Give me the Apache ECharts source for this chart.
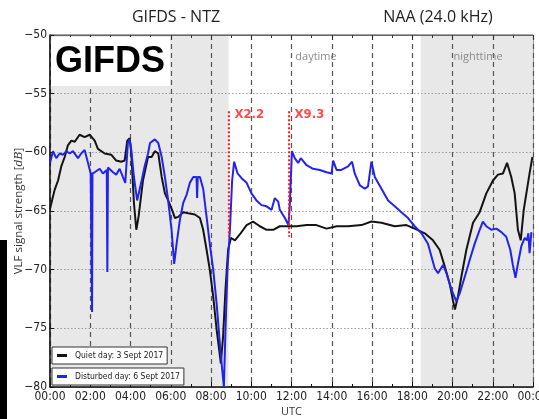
<!DOCTYPE html>
<html>
<head>
<meta charset="utf-8">
<title>GIFDS - NTZ / NAA (24.0 kHz)</title>
<script src="https://cdn.jsdelivr.net/npm/echarts@6/dist/echarts.min.js"></script>
<style>
  html, body { margin: 0; padding: 0; background: #fff; }
  #chart { width: 539px; height: 419px; }
</style>
</head>
<body>
<div id="chart"></div>
<script>
// Hour ticks along the UTC axis
const hourTicks = [0, 2, 4, 6, 8, 10, 12, 14, 16, 18, 20, 22, 24];

// Quiet day (3 Sept 2017): time in UTC hours, amplitude in dB
const quietHours = [0.00, 0.23, 0.40, 0.56, 0.73, 0.89, 1.06, 1.23, 1.47, 1.72, 1.97, 2.22, 2.38, 2.72, 3.04, 3.29, 3.54, 3.71, 3.84, 3.96, 4.04, 4.17, 4.29, 4.40, 4.62, 4.87, 5.05, 5.21, 5.38, 5.55, 5.71, 5.87, 6.04, 6.21, 6.37, 6.62, 6.87, 7.20, 7.45, 7.61, 7.78, 7.94, 8.11, 8.28, 8.39, 8.49, 8.60, 8.72, 8.85, 8.99, 9.19, 9.43, 9.77, 10.09, 10.43, 10.76, 11.09, 11.42, 11.83, 12.25, 12.75, 13.24, 13.74, 14.24, 14.81, 15.48, 15.97, 16.47, 17.13, 17.71, 18.12, 18.62, 19.03, 19.36, 19.61, 19.86, 20.02, 20.12, 20.27, 20.44, 20.69, 21.02, 21.35, 21.68, 22.01, 22.26, 22.51, 22.71, 22.92, 23.09, 23.25, 23.39, 23.54, 23.67, 23.83, 23.97];
const quietDb = [-64.8, -63.2, -62.4, -61.2, -60.4, -59.4, -59.0, -59.1, -58.5, -58.7, -58.5, -59.0, -59.7, -60.1, -60.2, -60.7, -60.8, -60.7, -59.0, -58.8, -60.1, -64.3, -66.6, -65.5, -62.4, -60.4, -60.4, -59.9, -60.1, -62.1, -63.5, -64.1, -64.8, -65.6, -65.5, -65.1, -65.2, -65.3, -65.6, -66.6, -68.3, -70.0, -72.3, -75.1, -76.6, -78.0, -75.7, -71.7, -68.3, -67.3, -67.5, -67.0, -66.2, -65.9, -66.3, -66.6, -66.6, -66.3, -66.3, -66.3, -66.2, -66.2, -66.5, -66.3, -66.3, -66.2, -65.9, -66.0, -66.3, -66.2, -66.5, -66.9, -67.5, -68.3, -69.7, -71.2, -72.6, -73.4, -72.3, -70.6, -68.3, -66.0, -65.1, -63.5, -62.4, -61.9, -61.8, -60.9, -62.1, -63.5, -66.6, -67.5, -64.9, -63.5, -61.8, -60.4];

// Disturbed day (6 Sept 2017): time in UTC hours, amplitude in dB
const disturbedHours = [0.00, 0.15, 0.31, 0.48, 0.65, 0.81, 0.98, 1.14, 1.39, 1.55, 1.72, 1.89, 2.02, 2.07, 2.09, 2.11, 2.22, 2.47, 2.63, 2.82, 2.85, 2.88, 2.96, 3.13, 3.29, 3.46, 3.62, 3.74, 3.87, 3.96, 4.04, 4.17, 4.33, 4.53, 4.70, 4.87, 4.97, 5.21, 5.38, 5.55, 5.71, 5.87, 6.04, 6.17, 6.29, 6.45, 6.62, 6.79, 6.95, 7.12, 7.28, 7.31, 7.34, 7.45, 7.61, 7.78, 7.94, 8.11, 8.28, 8.44, 8.56, 8.64, 8.72, 8.82, 8.94, 9.05, 9.15, 9.32, 9.52, 9.77, 10.01, 10.26, 10.51, 10.76, 11.01, 11.17, 11.34, 11.42, 11.67, 11.85, 11.92, 12.02, 12.16, 12.33, 12.46, 12.75, 13.07, 13.41, 13.74, 13.99, 14.07, 14.24, 14.48, 14.81, 15.01, 15.14, 15.39, 15.64, 15.80, 15.97, 16.14, 16.47, 16.80, 17.13, 17.46, 17.79, 18.12, 18.46, 18.78, 19.12, 19.28, 19.53, 19.70, 19.95, 20.19, 20.36, 20.61, 20.85, 21.10, 21.35, 21.51, 21.68, 21.93, 22.18, 22.43, 22.67, 22.87, 23.00, 23.13, 23.25, 23.42, 23.59, 23.70, 23.77, 23.83, 23.92];
const disturbedDb = [-60.9, -59.9, -60.5, -60.1, -60.2, -59.9, -60.1, -59.9, -60.5, -60.1, -59.8, -60.9, -61.8, -61.8, -73.6, -61.8, -61.7, -61.4, -61.8, -61.5, -70.2, -61.3, -61.2, -61.7, -61.9, -61.4, -62.1, -62.6, -59.2, -58.9, -59.8, -62.1, -64.1, -62.6, -61.2, -60.1, -59.2, -58.9, -59.2, -60.4, -62.1, -64.1, -66.6, -69.5, -67.8, -65.8, -64.3, -63.6, -62.6, -62.1, -62.1, -63.9, -62.1, -62.1, -63.1, -65.5, -67.8, -70.0, -72.9, -76.3, -78.6, -80.0, -75.1, -70.0, -66.6, -62.4, -60.8, -61.8, -62.2, -62.6, -63.5, -64.1, -64.5, -64.6, -64.9, -63.9, -64.2, -64.9, -65.6, -66.2, -64.3, -59.9, -60.5, -60.9, -60.5, -61.1, -61.4, -61.5, -61.7, -61.8, -60.7, -61.5, -61.5, -61.2, -60.8, -61.8, -62.8, -63.1, -62.9, -60.8, -62.1, -63.1, -64.1, -64.6, -65.1, -65.6, -66.3, -66.9, -67.8, -69.9, -70.3, -69.6, -70.3, -71.7, -72.7, -72.0, -70.6, -69.2, -67.8, -66.6, -65.9, -66.3, -66.6, -66.5, -66.8, -67.2, -68.3, -69.6, -70.7, -69.5, -68.0, -67.3, -67.5, -66.9, -68.6, -66.8];

// Night-time bands (UTC hours)
const nightBands = [[0, 8.87], [18.42, 24]];

// Solar flare markers: onset time, vertical extent in dB, amplification label
const flareHours = [8.89, 11.88];
const flareTopDb = [-56.5, -56.5];
const flareBottomDb = [-67.2, -67.2];
const flareLabels = ['X2.2', 'X9.3'];

const seriesNames = ['Quiet day: 3 Sept 2017', 'Disturbed day: 6 Sept 2017'];

const toPairs = (xs, ys) => xs.map((x, i) => [x, ys[i]]);
const hourLabel = v => String(Math.round(v) % 24).padStart(2, '0') + ':00';
const dbLabel = v => (v < 0 ? '\u2212' + Math.abs(v) : String(v));

const tickFont = '"Liberation Sans Narrow", "DejaVu Sans Condensed", "Liberation Sans", sans-serif';
const titleFont = '"Open Sans", "Noto Sans", sans-serif';
const flareRed = '#ff1a1a';

// dotted vertical flare lines
const flareLines = flareHours.map((h, i) => ({
  type: 'line',
  z: 4,
  silent: true,
  symbol: 'none',
  lineStyle: { color: flareRed, width: 2, type: [2, 2] },
  data: [[h, flareTopDb[i]], [h, flareBottomDb[i]]]
}));

// flare amplification labels at the top of each line
const flareTags = {
  type: 'scatter',
  z: 5,
  silent: true,
  symbolSize: 1,
  itemStyle: { color: 'rgba(0,0,0,0)' },
  label: {
    show: true,
    position: 'right',
    distance: 5,
    offset: [0, 3],
    formatter: p => flareLabels[p.dataIndex],
    color: flareRed,
    fontWeight: 'bold',
    fontSize: 13,
    fontFamily: tickFont
  },
  data: flareHours.map((h, i) => [h, flareTopDb[i]])
};

const legendBox = (name, top) => ({
  data: [name],
  left: 52, top: top,
  orient: 'vertical',
  borderColor: '#333', borderWidth: 1, borderRadius: 0,
  padding: [4, 4, 4, 5],
  itemWidth: 10, itemHeight: 3,
  icon: 'rect',
  backgroundColor: '#fff',
  textStyle: { fontFamily: tickFont, fontSize: 8.5, color: '#222', padding: [0, 0, 0, 3] }
});

const chart = echarts.init(document.getElementById('chart'), null, { renderer: 'canvas' });

chart.setOption({
  animation: false,
  backgroundColor: '#fff',
  title: [
    {
      text: 'GIFDS - NTZ',
      left: 171, top: 4, textAlign: 'center',
      textStyle: { fontFamily: titleFont, fontSize: 16, fontWeight: 'normal', color: '#222' }
    },
    {
      text: 'NAA (24.0 kHz)',
      left: 433, top: 4, textAlign: 'center',
      textStyle: { fontFamily: titleFont, fontSize: 16, fontWeight: 'normal', color: '#222' }
    }
  ],
  legend: [legendBox(seriesNames[0], 347), legendBox(seriesNames[1], 368)],
  grid: {
    left: 50, right: 6, top: 35, bottom: 32,
    outerBoundsMode: 'none',
    show: true, borderColor: '#444', borderWidth: 1, backgroundColor: 'transparent'
  },
  xAxis: [
    {
      type: 'value', min: hourTicks[0], max: hourTicks[hourTicks.length - 1], interval: 2,
      z: 2,
      name: 'UTC', nameLocation: 'middle', nameGap: 19,
      nameMoveOverlap: false,
      nameTextStyle: { fontFamily: titleFont, fontSize: 11, color: '#333' },
      axisLine: { lineStyle: { color: '#111', width: 1.5 } },
      axisTick: { inside: true, length: 5, lineStyle: { color: '#111' } },
      minorTick: { show: true, splitNumber: 2, length: 3, lineStyle: { color: '#111' } },
      axisLabel: { formatter: hourLabel, fontFamily: tickFont, fontSize: 12, color: '#222', margin: 4 },
      splitLine: { show: true, lineStyle: { color: '#555', width: 1.2, type: [5, 4] } }
    },
    {
      type: 'value', position: 'top', min: hourTicks[0], max: hourTicks[hourTicks.length - 1], interval: 2,
      z: 2,
      axisLine: { show: true, lineStyle: { color: '#666', width: 1 } },
      axisTick: { inside: true, length: 5, lineStyle: { color: '#333' } },
      minorTick: { show: true, splitNumber: 2, length: 3, lineStyle: { color: '#333' } },
      axisLabel: { show: false },
      splitLine: { show: false }
    }
  ],
  yAxis: {
    type: 'value', min: -80, max: -50, interval: 5,
    z: 2,
    name: 'VLF signal strength [{i|dB}]',
    nameLocation: 'middle', nameGap: 25,
    nameMoveOverlap: false,
    nameTextStyle: {
      fontFamily: titleFont, fontSize: 11.5, color: '#333',
      rich: { i: { fontStyle: 'italic', fontFamily: 'DejaVu Serif, serif', fontSize: 11, color: '#333' } }
    },
    axisLine: { show: true, lineStyle: { color: '#111', width: 1.5 } },
    axisTick: { show: true, inside: true, length: 4, lineStyle: { color: '#111' } },
    axisLabel: { formatter: dbLabel, fontFamily: tickFont, fontSize: 12, color: '#222', margin: 3 },
    splitLine: { show: true, lineStyle: { color: '#9a9a9a', width: 1, type: [1.5, 2] } }
  },
  graphic: [
    // label box in the upper-left corner of the plot
    { type: 'rect', z: 10, shape: { x: 51, y: 37, width: 119, height: 49 }, style: { fill: '#fff' } },
    {
      type: 'text', z: 11, x: 110, y: 62,
      style: { text: 'GIFDS', fill: '#000', font: 'bold 36px "Liberation Sans", Arial, sans-serif', align: 'center', verticalAlign: 'middle' }
    },
    {
      type: 'text', z: 11, x: 316, y: 57,
      style: { text: 'daytime', fill: '#8a8a8a', font: '11px ' + titleFont, align: 'center', verticalAlign: 'middle' }
    },
    {
      type: 'text', z: 11, x: 478, y: 57,
      style: { text: 'nighttime', fill: '#8a8a8a', font: '11px ' + titleFont, align: 'center', verticalAlign: 'middle' }
    },
    // dark strip along the lower left edge
    { type: 'rect', z: 10, shape: { x: 0, y: 240, width: 7, height: 179 }, style: { fill: '#000' } }
  ],
  series: [
    {
      // night-time shading, kept beneath the grid lines
      type: 'line', z: 0, silent: true, data: [],
      markArea: {
        z: 0,
        silent: true,
        itemStyle: { color: '#e8e8e8' },
        data: nightBands.map(b => [{ xAxis: b[0] }, { xAxis: b[1] }])
      }
    },
    {
      name: seriesNames[0], type: 'line', z: 3, symbol: 'none',
      color: '#141414',
      lineStyle: { color: '#141414', width: 2 },
      data: toPairs(quietHours, quietDb)
    },
    {
      name: seriesNames[1], type: 'line', z: 3, symbol: 'none',
      color: '#2323ee',
      lineStyle: { color: '#2323ee', width: 2 },
      data: toPairs(disturbedHours, disturbedDb)
    },
    ...flareLines,
    flareTags
  ]
});
</script>
</body>
</html>
